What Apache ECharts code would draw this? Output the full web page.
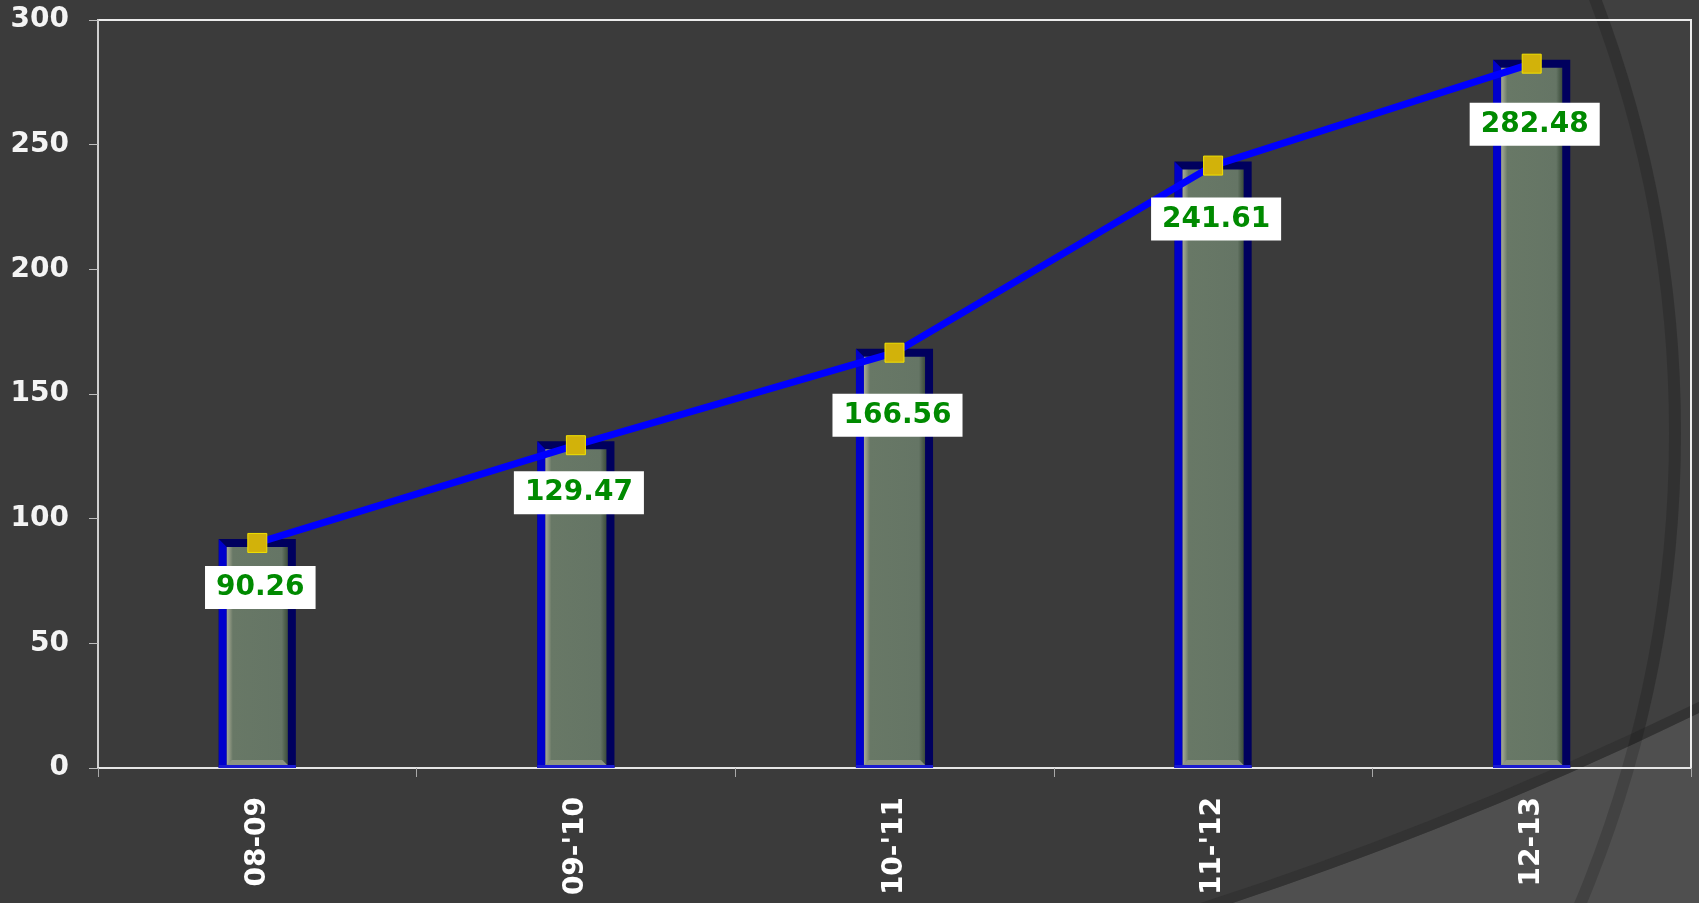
<!DOCTYPE html>
<html lang="en">
<head>
    <meta charset="UTF-8">
    <title>growth</title>
    <script src="https://cdn.jsdelivr.net/npm/echarts@6/dist/echarts.min.js"></script>
    <style>
        html, body {margin: 0; padding: 0; background: #404040;}
        #main {width: 1699px; height: 903px;}
    </style>
</head>
<body>
<div id="main"></div>
<script type="text/javascript">
// data
var years = ['08-09', "09-'10", "10-'11", "11-'12", '12-13'];
var values = [90.26, 129.47, 166.56, 241.61, 282.48];
var yMin = 0, yMax = 300, yStep = 50;
// how far each value box sits below its marker
var labelGap = [13, 16, 31, 22, 29];

var font = 'DejaVu Sans';

var lineData = values.map(function (v, i) {
    return {value: v, label: {distance: labelGap[i]}};
});
var barData = values.map(function (v, i) { return [i, v]; });

var innerFill = new echarts.graphic.LinearGradient(0, 0, 1, 0, [
    {offset: 0, color: '#a6aa96'},
    {offset: 0.05, color: '#8b947f'},
    {offset: 0.1, color: '#687866'},
    {offset: 0.9, color: '#657565'},
    {offset: 0.95, color: '#4f604f'},
    {offset: 1, color: '#3d4d3d'}
]);

// bevelled bar: blue left edge, navy top/right, grey-green face
function renderBar(params, api) {
    var i = api.value(0), v = api.value(1);
    var p = api.coord([i, v]), b = api.coord([i, 0]);
    var w = api.size([1, 0])[0] * 0.242;
    var bw = 8;
    var x0 = p[0] - w / 2, x1 = p[0] + w / 2, y0 = p[1] - 4, y1 = b[1];
    return {
        type: 'group',
        children: [
            {type: 'rect', shape: {x: x0, y: y0, width: w, height: y1 - y0}, style: {fill: '#00005e'}},
            {type: 'polygon', shape: {points: [[x0, y0], [x0 + bw, y0 + bw], [x0 + bw, y1], [x0, y1]]}, style: {fill: '#0000cc'}},
            {type: 'rect', shape: {x: x0, y: y1 - 3, width: w, height: 3}, style: {fill: '#1a1ad0'}},
            {type: 'rect', shape: {x: x0 + bw, y: y0 + bw, width: w - 2 * bw, height: y1 - 3 - y0 - bw}, style: {fill: innerFill}},
            {type: 'polygon', shape: {points: [[x0 + bw, y1 - 3], [x0 + bw + 5, y1 - 8], [x1 - bw - 5, y1 - 8], [x1 - bw, y1 - 3]]}, style: {fill: '#8c9482'}}
        ]
    };
}

var myChart = echarts.init(document.getElementById('main'));

myChart.setOption({
    backgroundColor: '#404040',
    animation: false,
    // slide theme decoration behind the chart
    graphic: [
        {type: 'circle', z: -10, silent: true, shape: {cx: 457, cy: 433, r: 1224}, style: {fill: '#3b3b3b'}},
        {type: 'ring', z: -9, silent: true, shape: {cx: 12, cy: -2759, r0: 3860, r: 5600}, style: {fill: '#4f4f4f'}},
        {type: 'circle', z: -8, silent: true, shape: {cx: 12, cy: -2759, r: 3855}, style: {fill: 'none', stroke: '#333333', lineWidth: 10}},
        {type: 'circle', z: -7, silent: true, shape: {cx: 457, cy: 433, r: 1218}, style: {fill: 'none', stroke: 'rgba(0,0,0,0.16)', lineWidth: 12}}
    ],
    grid: {
        left: 98,
        right: 8,
        top: 20,
        bottom: 135,
        show: true,
        borderColor: '#ececec',
        borderWidth: 2,
        backgroundColor: 'transparent'
    },
    xAxis: {
        type: 'category',
        data: years,
        axisLine: {lineStyle: {color: '#e6e6e6', width: 2}},
        axisTick: {show: true, length: 9, lineStyle: {color: '#a8a8a8'}},
        axisLabel: {
            rotate: 90,
            margin: 29,
            color: '#ffffff',
            fontSize: 28,
            fontWeight: 'bold',
            fontFamily: font
        }
    },
    yAxis: {
        type: 'value',
        min: yMin,
        max: yMax,
        interval: yStep,
        splitLine: {show: false},
        axisLine: {show: true, lineStyle: {color: '#cfcfcf', width: 2}},
        axisTick: {show: true, length: 9, lineStyle: {color: '#bdbdbd'}},
        axisLabel: {
            margin: 29,
            color: '#f4f4f4',
            fontSize: 28,
            fontWeight: 'bold',
            fontFamily: font
        }
    },
    series: [
        {
            type: 'custom',
            data: barData,
            encode: {x: 0, y: 1},
            renderItem: renderBar,
            z: 2
        },
        {
            type: 'line',
            data: lineData,
            symbol: 'rect',
            symbolSize: 19,
            lineStyle: {color: '#0000ff', width: 7},
            itemStyle: {color: '#d2b20a', borderColor: '#f2e200', borderWidth: 1},
            label: {
                show: true,
                position: 'bottom',
                offset: [3, 0],
                formatter: function (p) { return p.value.toFixed(2); },
                backgroundColor: '#ffffff',
                color: '#008a00',
                fontSize: 28,
                fontWeight: 'bold',
                fontFamily: font,
                lineHeight: 30,
                padding: [7, 11, 6, 11]
            },
            z: 3
        }
    ]
});
</script>
</body>
</html>
